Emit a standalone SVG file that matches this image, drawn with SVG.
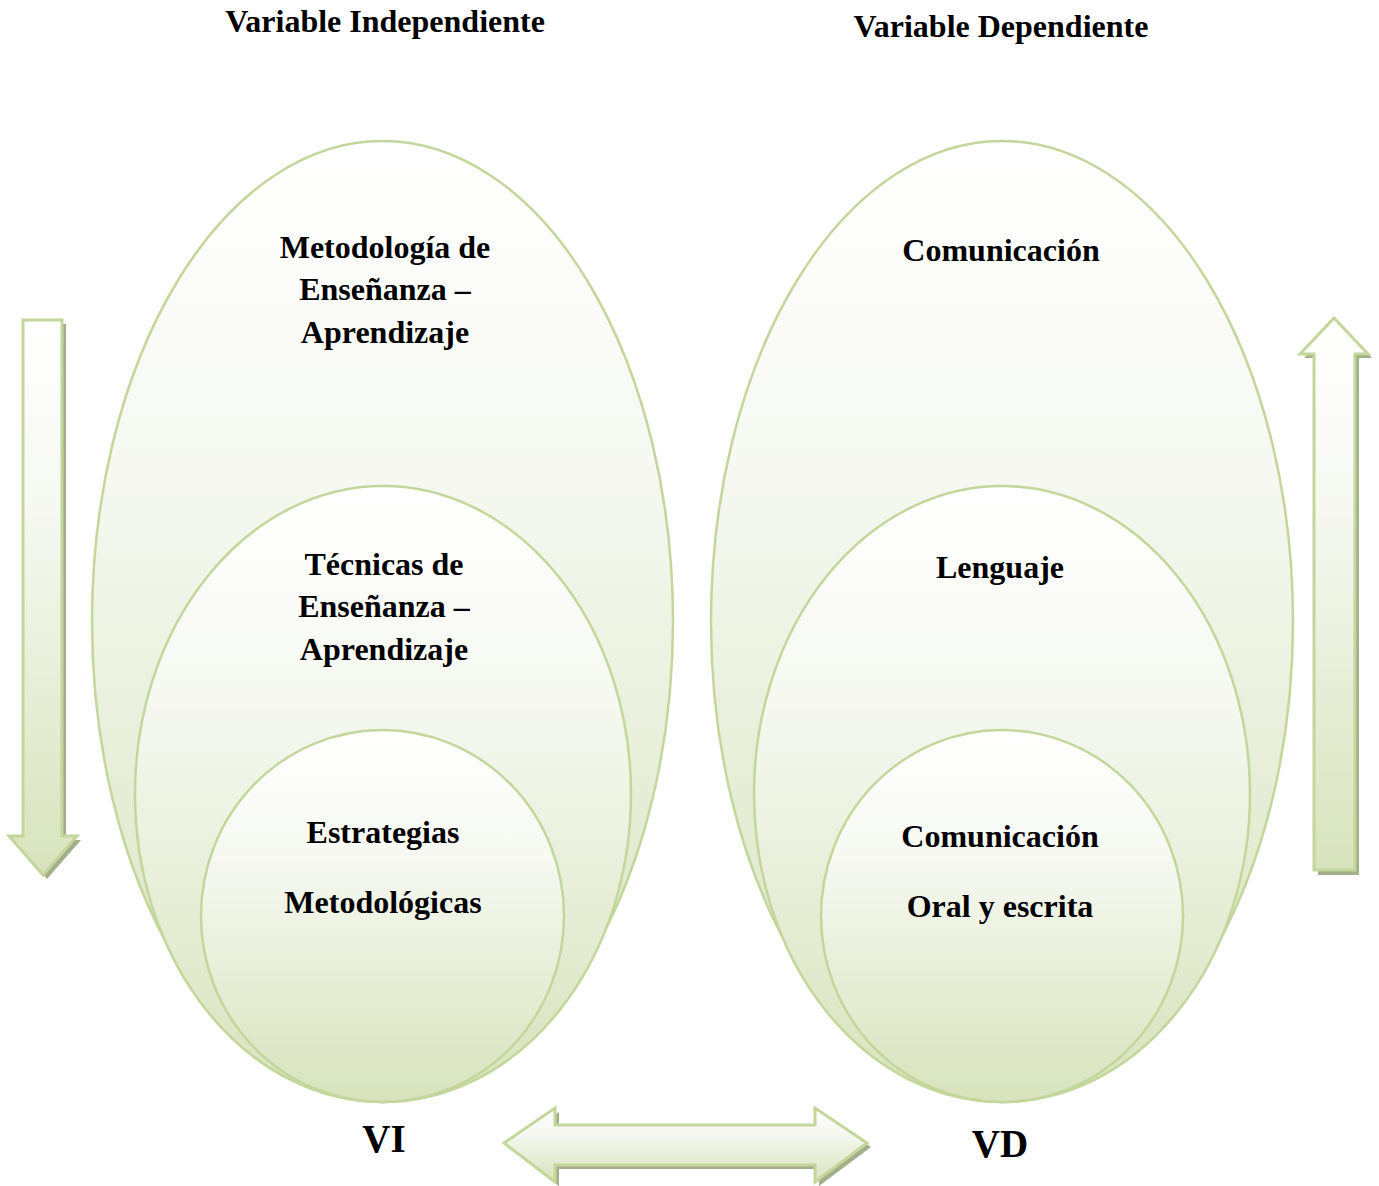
<svg xmlns="http://www.w3.org/2000/svg" width="1379" height="1186" viewBox="0 0 1379 1186">
<style>
.t{font-family:"Liberation Serif","Times New Roman",serif;font-weight:bold;fill:#000;text-anchor:middle}
.n{font-size:32px}
.e{fill:url(#g);stroke:#c3d69b;stroke-width:2.5}
.a{fill:url(#g);stroke:#c3d69b;stroke-width:3}
.s{fill:#a3ae8b}
</style>
<defs>
<linearGradient id="g" x1="0" y1="0" x2="0" y2="1">
<stop offset="0" stop-color="#ffffff"/>
<stop offset="0.35" stop-color="#f6f8f1"/>
<stop offset="1" stop-color="#d7e3bc"/>
</linearGradient>
</defs>
<rect width="1379" height="1186" fill="#fff"/>
<text class="t n" x="385" y="32">Variable Independiente</text>
<text class="t n" x="1001" y="37">Variable Dependiente</text>
<g id="vi-outer"><ellipse class="e" cx="382.5" cy="621.5" rx="290.5" ry="480.5"/></g>
<g id="vi-middle"><ellipse class="e" cx="383" cy="794" rx="248" ry="308"/></g>
<g id="vi-inner"><ellipse class="e" cx="382.5" cy="916" rx="181.5" ry="186"/></g>
<g id="vd-outer"><ellipse class="e" cx="1002" cy="621.5" rx="291" ry="480.5"/></g>
<g id="vd-middle"><ellipse class="e" cx="1002" cy="794" rx="248" ry="308"/></g>
<g id="vd-inner"><ellipse class="e" cx="1002" cy="916" rx="181" ry="186"/></g>
<g id="vi-labels">
<text class="t n" x="385" y="258">Metodología de</text>
<text class="t n" x="385" y="300">Enseñanza –</text>
<text class="t n" x="385" y="343">Aprendizaje</text>
<text class="t n" x="384" y="575">Técnicas de</text>
<text class="t n" x="384" y="617">Enseñanza –</text>
<text class="t n" x="384" y="660">Aprendizaje</text>
<text class="t n" x="383" y="843">Estrategias</text>
<text class="t n" x="383" y="913">Metodológicas</text>
</g>
<g id="vd-labels">
<text class="t n" x="1001" y="261">Comunicación</text>
<text class="t n" x="1000" y="578">Lenguaje</text>
<text class="t n" x="1000" y="847">Comunicación</text>
<text class="t n" x="1000" y="917">Oral y escrita</text>
</g>
<text class="t" x="384" y="1152" font-size="39">VI</text>
<text class="t" x="1000" y="1157" font-size="39">VD</text>
<g id="connectors">
<g id="arrow-down">
<polygon class="s" points="27,324 66,324 66,840 81,840 47,879 13,840 27,840"/>
<polygon class="a" points="23,320 62,320 62,836 77,836 43,875 9,836 23,836"/>
</g>
<g id="arrow-up">
<polygon class="s" points="1338,322 1372,358 1359,358 1359,875 1318,875 1318,358 1304,358"/>
<polygon class="a" points="1334,318 1368,354 1355,354 1355,870 1314,870 1314,354 1300,354"/>
</g>
<g id="arrow-both">
<polygon class="s" points="508,1147 559,1112 559,1129 819,1129 819,1112 871,1147 819,1186 819,1169 559,1169 559,1186"/>
<polygon class="a" points="504,1143 555,1108 555,1125 815,1125 815,1108 867,1143 815,1182 815,1165 555,1165 555,1182"/>
</g>
</g>
</svg>
